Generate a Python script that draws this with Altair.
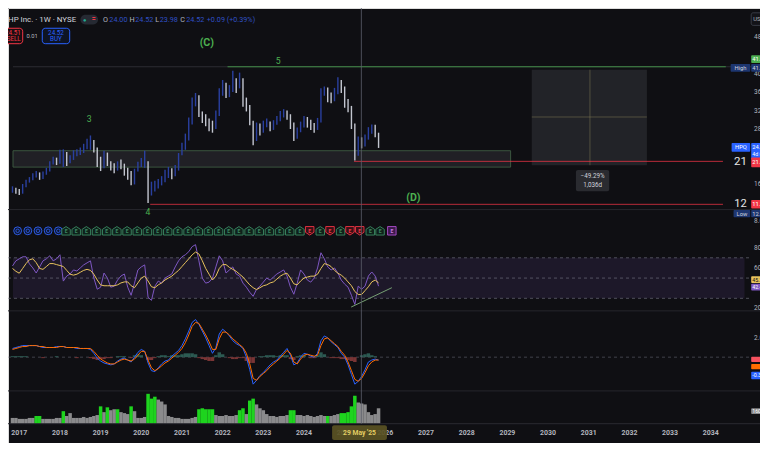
import altair as alt
import pandas as pd

# ---------------- canvas ----------------
W, H = 752, 435
SX, SY = W / 768, H / 451


def px(v):
    return round(v * SX, 2)


def py(v):
    return round(v * SY, 2)


BG = "#0f0f13"
FONT = "Roboto"

# ---------------- data ----------------
T0, T1 = 2016.846, 2035.088          # visible time window (fractional years)
year_ticks = list(range(2017, 2035))

n_months = 109                        # monthly bars Nov 2016 .. Nov 2025
t = [2016 + (10 + i) / 12 for i in range(n_months)]

close = [14.9, 14.5,
         14.1, 15.6, 16.6, 17.0, 17.7, 18.3, 17.5, 18.3, 18.9, 20.4, 21.4, 20.8,
         21.8, 22.9, 20.8, 21.6, 22.5, 22.9, 23.1, 23.7, 25.0, 26.0, 23.9, 21.8,
         19.7, 22.9, 20.8, 19.7, 19.3, 20.2, 20.0, 18.7, 17.7, 16.2, 18.7, 19.7,
         20.8, 21.4, 14.5, 14.5, 15.4, 16.0, 16.6, 17.5, 18.3, 17.9, 19.1, 21.8,
         23.9, 25.8, 29.1, 33.3, 35.0, 31.2, 30.2, 29.6, 28.7, 28.1, 30.8, 35.8,
         37.5, 35.8, 36.4, 39.2, 37.5, 38.5, 33.3, 32.7, 29.6, 25.4, 28.1, 27.5,
         28.7, 29.1, 28.1, 28.7, 30.0, 31.2, 31.6, 30.8, 29.1, 26.0, 27.5, 28.7,
         30.0, 29.1, 28.7, 28.1, 29.6, 35.8, 36.4, 35.0, 34.4, 35.8, 37.9, 36.4,
         33.7, 32.3, 28.7, 22.9, 25.4, 24.5, 26.0, 27.5, 28.1, 26.6, 24.5]
high = [15.6, 15.3,
        15.0, 16.1, 17.0, 17.6, 18.4, 18.9, 18.6, 18.8, 19.6, 21.0, 22.0, 21.8,
        23.5, 23.6, 23.0, 22.3, 23.4, 23.6, 24.0, 24.8, 25.9, 26.6, 25.6, 24.0,
        22.0, 23.3, 22.9, 21.0, 20.6, 21.0, 21.4, 20.5, 19.6, 18.9, 19.4, 20.9,
        21.7, 23.3, 21.0, 16.6, 16.8, 17.2, 17.8, 19.2, 19.8, 19.5, 20.2, 22.8,
        25.0, 27.0, 30.5, 34.8, 35.8, 35.3, 31.8, 31.2, 30.3, 29.8, 32.0, 36.8,
        38.6, 38.0, 37.5, 40.6, 39.0, 40.2, 39.0, 34.8, 33.2, 29.8, 29.4, 29.2,
        29.8, 30.3, 29.6, 29.9, 30.8, 31.9, 32.3, 32.0, 31.2, 29.4, 28.3, 29.6,
        30.8, 30.6, 30.0, 29.3, 30.4, 36.8, 37.2, 37.0, 35.9, 36.9, 39.2, 38.6,
        37.2, 34.5, 33.0, 29.2, 26.4, 26.2, 26.8, 28.4, 29.0, 28.9, 27.2]
low = [14.2, 14.0,
       13.7, 14.0, 15.4, 16.4, 16.9, 17.5, 17.0, 17.2, 18.1, 18.8, 20.3, 20.2,
       20.5, 19.8, 20.0, 20.6, 21.3, 22.1, 22.4, 22.8, 23.6, 23.5, 22.9, 19.8,
       18.9, 19.5, 20.0, 19.0, 18.4, 19.0, 19.3, 17.9, 17.0, 15.8, 16.0, 18.8,
       19.8, 19.6, 12.0, 13.6, 14.5, 15.1, 15.8, 16.5, 17.4, 17.1, 17.8, 19.0,
       22.3, 23.5, 25.5, 29.0, 32.9, 30.6, 29.3, 28.6, 27.5, 27.2, 28.0, 30.8,
       35.2, 34.7, 34.9, 36.0, 35.8, 36.8, 32.8, 31.8, 28.8, 24.5, 25.4, 26.6,
       27.2, 28.4, 27.5, 27.8, 28.9, 29.7, 30.5, 30.0, 28.0, 25.4, 25.9, 27.3,
       28.3, 28.3, 27.8, 27.2, 27.8, 29.4, 35.2, 33.8, 33.6, 34.0, 35.5, 35.8,
       32.6, 31.6, 28.0, 21.2, 22.2, 23.8, 24.2, 25.7, 27.0, 26.2, 23.9]

rsi = [62, 67,
       69, 71, 71, 64, 60, 55, 61, 67, 69, 72, 67, 69,
       73, 47, 52, 54, 58, 57, 60, 63, 65, 67, 50, 39,
       41, 55, 50, 41, 42, 48, 52, 54, 41, 33, 45, 58,
       61, 63, 31, 28, 42, 47, 45, 50, 52, 54, 61, 67,
       71, 73, 76, 81, 83, 67, 50, 45, 46, 50, 61, 72,
       67, 55, 58, 61, 54, 52, 45, 41, 36, 32, 39, 42,
       46, 50, 48, 51, 54, 56, 58, 52, 41, 34, 45, 58,
       54, 48, 46, 50, 60, 75, 69, 61, 58, 60, 55, 48,
       44, 41, 33, 24, 42, 39, 42, 52, 56, 52, 42]
rsi_ma = [59.5, 56.7,
          54.8, 59.5, 64.3, 68.1, 69.0, 65.2, 59.5, 58.6, 61.4, 64.3, 64.3, 63.3,
          62.4, 61.4, 57.6, 53.8, 52.9, 53.8, 55.7, 57.6, 58.6, 57.6, 53.8, 48.1,
          43.3, 42.4, 42.4, 42.4, 42.4, 43.3, 45.2, 46.2, 46.2, 42.4, 40.5, 45.2,
          50.0, 51.9, 47.1, 41.4, 40.5, 43.3, 45.2, 48.1, 50.0, 51.9, 54.8, 57.6,
          61.4, 65.2, 69.0, 72.9, 75.7, 73.8, 67.1, 59.5, 53.8, 48.1, 51.9, 59.5,
          63.3, 63.3, 60.5, 58.6, 56.7, 53.8, 51.0, 47.1, 43.3, 40.5, 38.6, 40.5,
          42.4, 43.3, 45.2, 46.2, 49.0, 51.9, 53.8, 54.8, 50.0, 44.3, 43.3, 47.1,
          50.0, 51.0, 51.9, 51.9, 53.8, 59.5, 64.3, 63.3, 61.4, 57.6, 54.8, 52.9,
          50.0, 46.2, 42.4, 36.7, 33.8, 33.8, 37.6, 41.4, 46.2, 48.1, 45.2]

macd = [0.9, 1.0,
        1.1, 1.2, 1.2, 1.2, 1.2, 1.2, 1.1, 1.0, 1.0, 1.0, 1.0, 1.1,
        1.1, 1.1, 1.0, 1.0, 1.0, 0.9, 0.9, 0.9, 0.9, 0.8, 0.4, -0.1,
        -0.4, -0.6, -0.7, -0.8, -0.7, -0.4, -0.2, -0.1, -0.3, -0.5, 0.0, 0.5,
        0.8, 0.6, -0.6, -1.4, -1.5, -1.1, -0.7, -0.4, -0.3, 0.1, 0.4, 0.7,
        1.2, 1.9, 2.7, 3.6, 3.9, 3.4, 2.7, 2.0, 1.2, 0.4, 1.0, 2.4,
        2.9, 2.6, 2.2, 1.7, 1.4, 1.2, 0.9, 0.0, -1.3, -2.8, -2.4, -1.9,
        -1.6, -1.2, -0.8, -0.5, -0.3, 0.1, 0.5, 0.9, 0.2, -0.8, -0.6, 0.0,
        0.4, 0.3, 0.1, 0.0, 0.4, 1.7, 2.2, 2.0, 1.6, 1.3, 1.0, 0.4,
        0.0, -0.8, -1.8, -2.8, -2.5, -2.0, -1.3, -0.5, -0.3, -0.2, -0.3]
signal = [0.8, 0.9,
          1.0, 1.1, 1.1, 1.2, 1.2, 1.2, 1.1, 1.1, 1.0, 1.0, 1.0, 1.0,
          1.1, 1.1, 1.0, 1.0, 1.0, 1.0, 0.9, 0.9, 0.9, 0.9, 0.6, 0.2,
          -0.2, -0.4, -0.6, -0.7, -0.7, -0.5, -0.3, -0.2, -0.3, -0.4, -0.2, 0.2,
          0.6, 0.6, -0.3, -1.1, -1.4, -1.2, -0.9, -0.6, -0.4, -0.1, 0.2, 0.5,
          0.9, 1.5, 2.3, 3.2, 3.6, 3.5, 2.9, 2.3, 1.6, 0.8, 0.8, 1.9,
          2.6, 2.6, 2.3, 1.9, 1.6, 1.3, 1.0, 0.4, -0.7, -2.2, -2.4, -2.0,
          -1.7, -1.4, -1.0, -0.7, -0.4, -0.1, 0.3, 0.7, 0.4, -0.5, -0.7, -0.2,
          0.2, 0.3, 0.2, 0.1, 0.2, 1.2, 1.9, 2.0, 1.7, 1.4, 1.1, 0.6,
          0.2, -0.5, -1.4, -2.3, -2.5, -2.2, -1.6, -0.9, -0.5, -0.3, -0.3]
hist = [0.1, 0.1,
        0.1, 0.1, 0.1, 0.0, 0.0, 0.0, 0.0, -0.1, 0.0, 0.0, 0.0, 0.1,
        0.0, 0.0, 0.0, 0.0, 0.0, -0.1, 0.0, 0.0, 0.0, -0.1, -0.2, -0.3,
        -0.2, -0.2, -0.1, -0.1, 0.0, 0.1, 0.1, 0.1, 0.0, -0.1, 0.2, 0.3,
        0.2, 0.0, -0.3, -0.3, -0.1, 0.1, 0.2, 0.2, 0.1, 0.2, 0.2, 0.2,
        0.3, 0.4, 0.4, 0.4, 0.3, -0.1, -0.2, -0.3, -0.4, -0.4, 0.2, 0.5,
        0.3, 0.0, -0.1, -0.2, -0.2, -0.1, -0.1, -0.4, -0.6, -0.6, 0.0, 0.1,
        0.1, 0.2, 0.2, 0.2, 0.1, 0.2, 0.2, 0.2, -0.2, -0.3, 0.1, 0.2,
        0.2, 0.0, -0.1, -0.1, 0.2, 0.5, 0.3, 0.0, -0.1, -0.1, -0.1, -0.2,
        -0.2, -0.3, -0.4, -0.5, 0.0, 0.2, 0.3, 0.4, 0.2, 0.1, 0.0]

volume = [60, 60,
          50, 50, 50, 60, 60, 80, 80, 50, 50, 50, 50, 60,
          60, 130, 80, 110, 60, 60, 60, 70, 60, 70, 80, 90,
          180, 120, 170, 140, 150, 150, 120, 110, 100, 180, 130, 60,
          60, 70, 310, 260, 280, 250, 230, 200, 80, 70, 60, 60,
          50, 50, 50, 60, 70, 150, 160, 150, 150, 150, 90, 80,
          80, 90, 80, 80, 90, 140, 160, 100, 240, 260, 200, 160,
          140, 100, 80, 80, 70, 80, 80, 90, 140, 140, 90, 90,
          80, 90, 80, 70, 80, 90, 80, 80, 80, 90, 100, 110,
          110, 120, 180, 290, 220, 210, 200, 120, 90, 100, 160]
vol_hot = [0, 0,
           0, 0, 0, 0, 0, 1, 1, 0, 0, 0, 0, 0,
           0, 1, 0, 0, 0, 0, 0, 0, 0, 0, 0, 0,
           1, 0, 1, 0, 0, 1, 0, 0, 0, 1, 0, 0,
           0, 0, 1, 1, 1, 0, 0, 0, 0, 0, 0, 0,
           0, 0, 0, 0, 0, 1, 1, 1, 1, 1, 0, 0,
           0, 0, 0, 0, 0, 1, 1, 0, 1, 1, 0, 0,
           0, 0, 0, 0, 0, 0, 0, 0, 1, 1, 0, 0,
           0, 0, 0, 0, 0, 0, 0, 1, 0, 0, 0, 1,
           1, 1, 1, 1, 0, 0, 0, 0, 0, 0, 0]

for arr in (close, high, low, rsi, rsi_ma, macd, signal, hist, volume, vol_hot):
    assert len(arr) == n_months, len(arr)

div_t = [2016.96, 2017.21, 2017.46, 2017.71, 2017.96]
earn_t = [2018.15, 2018.40, 2018.65, 2018.90, 2019.15, 2019.40, 2019.65, 2019.90,
          2020.15, 2020.40, 2020.65, 2020.90, 2021.15, 2021.40, 2021.65, 2021.90,
          2022.15, 2022.40, 2022.65, 2022.90, 2023.15, 2023.40, 2023.65, 2023.90,
          2024.14, 2024.40, 2024.64, 2024.90, 2025.13, 2025.37, 2025.63, 2025.87,
          2026.16]
earn_kind = ["beat"] * 24 + ["miss", "beat", "miss", "beat", "miss", "miss",
                             "beat", "beat", "next"]

price_ticks = [48, 40, 36, 32, 28, 16, 8]
rsi_ticks = [80, 60, 20]
macd_ticks = [2]

high_level = 41.47
sup_level, low_level = 21.0, 11.7
cursor_t = 2025.41
zone = dict(a=T0, b=2029.08, lo=19.75, hi=23.3)
measure = dict(a=2029.60, b=2032.43, top=40.83, bot=20.16, mid_t=2031.03, mid_p=30.6)
trend = dict(t=[2025.16, 2026.16], v=[21.4, 40.5])

# ---------------- scales ----------------
XS = alt.Scale(domain=[T0, T1], nice=False, zero=False)
PS = alt.Scale(domain=[7.847, 54.19], range=[py(222), 0], nice=False, zero=False)
RS = alt.Scale(domain=[18.57, 90.95], range=[py(313), py(237)], nice=False, zero=False)
MS = alt.Scale(domain=[-3.5, 4.8], range=[py(397), py(314)], nice=False, zero=False)
VS = alt.Scale(domain=[0, 340], range=[py(431), py(397)], nice=False, zero=False)


def Xf(f):
    return alt.X(f"{f}:Q", scale=XS, axis=None)


def Yf(f, s):
    return alt.Y(f"{f}:Q", scale=s, axis=None)


ONE = pd.DataFrame({"k": [0]})


def label(text, x, y, color="#d1d4dc", size=7.0, align="left", weight="normal"):
    return alt.Chart(ONE).mark_text(
        text=text, align=align, baseline="middle", color=color,
        fontSize=round(size * SY, 2), fontWeight=weight, font=FONT
    ).encode(x=alt.value(px(x)), y=alt.value(py(y)))


def box(x1, y1, x2, y2, fill, stroke="", fo=1.0, sw=1.0, r=0.0):
    kw = dict(fill=fill, fillOpacity=fo, cornerRadius=r)
    if stroke:
        kw.update(stroke=stroke, strokeWidth=sw)
    return alt.Chart(ONE).mark_rect(**kw).encode(
        x=alt.value(px(x1)), x2=alt.value(px(x2)),
        y=alt.value(py(y1)), y2=alt.value(py(y2)))


def hrule(y, x1, x2, color, sw=1.0, dash=(), op=1.0):
    kw = dict(color=color, strokeWidth=sw, opacity=op)
    if dash:
        kw["strokeDash"] = list(dash)
    return alt.Chart(ONE).mark_rule(**kw).encode(
        x=alt.value(px(x1)), x2=alt.value(px(x2)), y=alt.value(py(y)))


layers = []

# ---------------- tables ----------------
opens = [close[0]] + close[:-1]
price_df = pd.DataFrame({"t": t, "open": opens, "close": close, "high": high, "low": low})
price_df["dir"] = ["up" if c >= o else "down" for c, o in zip(close, opens)]
ind_df = pd.DataFrame({"t": t, "rsi": rsi, "ma": rsi_ma, "macd": macd, "signal": signal,
                       "hist": hist, "vol": volume})
ind_df["hs"] = ["pos" if h >= 0 else "neg" for h in hist]
ind_df["vh"] = ["hot" if v else "calm" for v in vol_hot]

# ---------------- main price panel ----------------
layers.append(alt.Chart(pd.DataFrame([zone])).mark_rect(
    fill="#7d7f86", fillOpacity=0.16, stroke="#3f5e43", strokeWidth=0.9).encode(
    x=Xf("a"), x2="b:Q", y=Yf("hi", PS), y2="lo:Q"))
layers.append(alt.Chart(pd.DataFrame([measure])).mark_rect(
    fill="#9598a1", fillOpacity=0.15).encode(
    x=Xf("a"), x2="b:Q", y=Yf("top", PS), y2="bot:Q"))
layers.append(alt.Chart(pd.DataFrame([measure])).mark_rule(
    color="#8a8256", strokeWidth=0.8, opacity=0.6).encode(
    x=Xf("mid_t"), y=Yf("top", PS), y2="bot:Q"))
layers.append(alt.Chart(pd.DataFrame([measure])).mark_rule(
    color="#8a8256", strokeWidth=0.8, opacity=0.6).encode(
    x=Xf("a"), x2="b:Q", y=Yf("mid_p", PS)))

# faint high / low guide lines across the pane
layers.append(alt.Chart(pd.DataFrame({"a": [T0], "b": [T1], "p": [high_level]})).mark_rule(
    color="#2c2c33", strokeWidth=1).encode(x=Xf("a"), x2="b:Q", y=Yf("p", PS)))
layers.append(hrule(209, 0, 768, "#26262d"))
layers.append(alt.Chart(pd.DataFrame({"a": [2022.12], "b": [2034.37], "p": [high_level]})).mark_rule(
    color="#4caf50", strokeWidth=1, opacity=0.75).encode(x=Xf("a"), x2="b:Q", y=Yf("p", PS)))
layers.append(alt.Chart(pd.DataFrame({"a": [2025.23, 2020.22], "b": [2034.30, 2034.30],
                                      "p": [sup_level, low_level]})).mark_rule(
    color="#f23645", strokeWidth=1, opacity=0.75).encode(x=Xf("a"), x2="b:Q", y=Yf("p", PS)))

# price bars
layers.append(alt.Chart(price_df).mark_rule(strokeWidth=1.4).encode(
    x=Xf("t"), y=Yf("low", PS), y2="high:Q",
    color=alt.Color("dir:N", scale=alt.Scale(domain=["up", "down"], range=["#2a40a0", "#c3c6d0"]),
                    legend=None)))

# wave labels
layers += [
    label("(C)", 203, 36, "#4caf50", 11, "center", "bold"),
    label("5", 276, 55, "#4caf50", 9, "center"),
    label("3", 83, 115, "#4caf50", 9, "center"),
    label("4", 143, 211, "#4caf50", 9, "center"),
    label("(D)", 414, 197, "#4caf50", 11, "center", "bold"),
]

# measure label
layers += [
    box(580, 168, 614, 190, "#2a2b30", r=2),
    label("\u221249.29%", 597, 174.5, "#d1d4dc", 6.5, "center"),
    label("1,036d", 597, 184, "#d1d4dc", 6.5, "center"),
]

# ---------------- header ----------------
layers += [
    label("HP Inc. \u00b7 1W \u00b7 NYSE", 0, 12, "#d1d4dc", 8.2),
    box(74, 7, 92, 17, "#262a33", r=5),
    label("\u25cf", 78.5, 12, "#22ab94", 6, "center"),
    label("=", 87.5, 11.5, "#f23645", 7, "center", "bold"),
    label("O", 97, 12, "#b2b5be", 7.5), label("24.00", 103.5, 12, "#2f4fc4", 7.5),
    label("H", 124, 12, "#b2b5be", 7.5), label("24.52", 130, 12, "#2f4fc4", 7.5),
    label("L", 150.5, 12, "#b2b5be", 7.5), label("23.98", 155, 12, "#2f4fc4", 7.5),
    label("C", 176, 12, "#b2b5be", 7.5), label("24.52", 182, 12, "#2f4fc4", 7.5),
    label("+0.09 (+0.39%)", 203, 12, "#2f4fc4", 7.5),
    box(-20, 21, 15, 37, "#1a0e12", "#f23645", sw=1, r=3),
    label("24.51", 13, 25.5, "#f23645", 6.5, "right"),
    label("SELL", 13, 32.5, "#f23645", 6.5, "right"),
    label("0.01", 19, 29, "#b2b5be", 6),
    box(35, 21, 63, 37, "#0e1424", "#2962ff", sw=1, r=3),
    label("24.52", 49, 25.5, "#2962ff", 6.5, "center"),
    label("BUY", 49, 32.5, "#2962ff", 6.5, "center"),
    box(759, 5, 772, 18, "#131318", "#434651", sw=0.8, r=2),
    label("USD", 761, 11.5, "#b2b5be", 6),
]

# ---------------- event icons ----------------
div_df = pd.DataFrame({"t": div_t})
layers.append(alt.Chart(div_df).mark_point(
    shape="circle", size=62, filled=True, fill="#0c1633", stroke="#2e5be0",
    strokeWidth=1, opacity=1).encode(x=Xf("t"), y=alt.value(py(231))))
layers.append(alt.Chart(div_df).mark_point(
    shape="circle", size=12, filled=False, color="#2e5be0", strokeWidth=0.9,
    opacity=1).encode(x=Xf("t"), y=alt.value(py(231))))
HOUSE = "M-1,1 L-1,-0.35 L0,-1 L1,-0.35 L1,1 Z"
SHIELD = "M-1,-1 L1,-1 L1,0.35 L0,1 L-1,0.35 Z"
earn_df = pd.DataFrame({"t": earn_t, "kind": earn_kind})
kinds = ["beat", "miss", "next"]
layers.append(alt.Chart(earn_df).mark_point(size=72, strokeWidth=0.9, opacity=1, filled=True).encode(
    x=Xf("t"), y=alt.value(py(231)),
    shape=alt.Shape("kind:N", scale=alt.Scale(domain=kinds, range=[HOUSE, SHIELD, "square"]), legend=None),
    fill=alt.Fill("kind:N", scale=alt.Scale(domain=kinds, range=["#0f211b", "#3a1016", "#3c1a4c"]), legend=None),
    stroke=alt.Stroke("kind:N", scale=alt.Scale(domain=kinds, range=["#3b8a63", "#f23645", "#b04fd0"]), legend=None)))
layers.append(alt.Chart(earn_df).mark_text(text="E", fontSize=5, font=FONT, fontWeight="bold").encode(
    x=Xf("t"), y=alt.value(py(231.5)),
    color=alt.Color("kind:N", scale=alt.Scale(domain=kinds, range=["#3b8a63", "#f23645", "#c77ae0"]), legend=None)))

# ---------------- RSI panel ----------------
layers.append(alt.Chart(pd.DataFrame({"a": [T0], "b": [2034.83], "hi": [70], "lo": [30]})).mark_rect(
    fill="#7e57c2", fillOpacity=0.13).encode(x=Xf("a"), x2="b:Q", y=Yf("hi", RS), y2="lo:Q"))
layers.append(alt.Chart(pd.DataFrame({"lv": [70, 50, 30]})).mark_rule(
    color="#787b86", strokeDash=[3, 3], strokeWidth=0.8, opacity=0.75).encode(
    y=Yf("lv", RS), x=alt.value(0), x2=alt.value(px(757))))
layers.append(alt.Chart(ind_df).mark_line(color="#7e57c2", strokeWidth=1).encode(
    x=Xf("t"), y=Yf("rsi", RS)))
layers.append(alt.Chart(ind_df).mark_line(color="#e8c35c", strokeWidth=1).encode(
    x=Xf("t"), y=Yf("ma", RS)))
layers.append(alt.Chart(pd.DataFrame(trend)).mark_line(color="#7fae7a", strokeWidth=0.9).encode(
    x=Xf("t"), y=Yf("v", RS)))

# ---------------- MACD panel ----------------
layers.append(alt.Chart(pd.DataFrame({"z": [0]})).mark_rule(
    color="#787b86", strokeDash=[3, 3], strokeWidth=0.8, opacity=0.6).encode(
    y=Yf("z", MS), x=alt.value(0), x2=alt.value(px(757))))
layers.append(alt.Chart(ind_df).mark_bar(size=3.5).encode(
    x=Xf("t"), y=Yf("hist", MS), y2=alt.datum(0),
    color=alt.Color("hs:N", scale=alt.Scale(domain=["pos", "neg"], range=["#2c5a52", "#7a3535"]),
                    legend=None)))
layers.append(alt.Chart(ind_df).mark_line(color="#2962ff", strokeWidth=1).encode(
    x=Xf("t"), y=Yf("macd", MS)))
layers.append(alt.Chart(ind_df).mark_line(color="#ff6d00", strokeWidth=1).encode(
    x=Xf("t"), y=Yf("signal", MS)))

# ---------------- volume panel ----------------
layers.append(alt.Chart(ind_df).mark_bar(size=3.5).encode(
    x=Xf("t"), y=Yf("vol", VS), y2=alt.datum(0),
    color=alt.Color("vh:N", scale=alt.Scale(domain=["hot", "calm"], range=["#1ed41e", "#8a8a8c"]),
                    legend=None)))

# ---------------- separators, cursor ----------------
layers += [
    hrule(314, 0, 768, "#26262d"),
    hrule(397, 0, 768, "#26262d"),
    hrule(431, 0, 768, "#2a2a31"),
]
layers.append(alt.Chart(pd.DataFrame({"t": [cursor_t]})).mark_rule(
    color="#5d606b", strokeWidth=0.8).encode(x=Xf("t"), y=alt.value(0), y2=alt.value(py(431))))

# ---------------- right price scale ----------------
layers.append(alt.Chart(pd.DataFrame({"v": price_ticks})).mark_text(
    align="left", baseline="middle", color="#b2b5be", fontSize=6.5, font=FONT).encode(
    x=alt.value(px(762)), y=Yf("v", PS), text=alt.Text("v:Q", format=".2f")))
layers.append(alt.Chart(pd.DataFrame({"v": rsi_ticks})).mark_text(
    align="left", baseline="middle", color="#b2b5be", fontSize=6.5, font=FONT).encode(
    x=alt.value(px(762)), y=Yf("v", RS), text=alt.Text("v:Q", format=".2f")))
layers.append(alt.Chart(pd.DataFrame({"v": macd_ticks})).mark_text(
    align="left", baseline="middle", color="#b2b5be", fontSize=6.5, font=FONT).encode(
    x=alt.value(px(762)), y=Yf("v", MS), text=alt.Text("v:Q", format=".2f")))

layers += [
    box(759, 49, 772, 57, "#4caf50", r=1), label("41.47", 760, 53, "#ffffff", 6),
    box(738, 58, 758, 66, "#1d3670", r=1), label("High", 748, 62, "#d1d4dc", 6, "center"),
    box(759, 58, 772, 66, "#1d3670", r=1), label("41.47", 760, 62, "#d1d4dc", 6),
    box(739, 140, 758, 149, "#2962ff", r=1), label("HPQ", 748.5, 144.5, "#ffffff", 6, "center"),
    box(759, 140, 772, 157, "#2962ff", r=1), label("24.52", 760, 144, "#ffffff", 6),
    label("4d 02h", 760, 151.5, "#ffffff", 5.5),
    label("21", 748, 160, "#e6e6e6", 12, "center"),
    box(759, 155, 772, 165, "#f23645", r=1), label("21.00", 760, 160, "#ffffff", 6),
    label("12", 748, 203.5, "#e6e6e6", 11.5, "center"),
    box(759, 199, 772, 208, "#f23645", r=1), label("11.70", 760, 203.5, "#ffffff", 6),
    box(741, 209.5, 758, 217, "#1d3670", r=1), label("Low", 749.5, 213.3, "#d1d4dc", 6, "center"),
    box(759, 209.5, 772, 217, "#1d3670", r=1), label("12.00", 760, 213.3, "#d1d4dc", 6),
    # RSI / MA tags
    box(759, 278, 772, 285, "#e8c35c", r=1), label("45.20", 760, 281.5, "#131313", 5.5),
    box(759, 286, 772, 293, "#7e57c2", r=1), label("42.40", 760, 289.5, "#ffffff", 5.5),
    # MACD tags
    box(759, 361.5, 772, 367, "#f7525f", r=1),
    box(759, 369, 772, 374.5, "#ff6d00", r=1),
    box(759, 377, 772, 385, "#2962ff", r=1), label("-0.30", 760, 381, "#ffffff", 5.5),
    # volume tag
    box(759, 415, 772, 421, "#8a8a8c", r=1), label("160M", 760, 418, "#ffffff", 5.5),
]

# ---------------- time axis ----------------
layers.append(alt.Chart(pd.DataFrame({"y": year_ticks})).mark_text(
    baseline="middle", align="center", color="#b2b5be", fontSize=round(7.2 * SY, 2),
    fontWeight="bold", font=FONT).encode(
    x=Xf("y"), y=alt.value(py(441)), text="y:N"))
layers += [
    box(331, 432.5, 387, 448, "#5a5224", fo=0.92, r=2),
    label("29 May '25", 359, 440.5, "#e2cc63", 7, "center", "bold"),
]

chart = alt.layer(*layers).resolve_scale(
    y="independent", color="independent", fill="independent",
    stroke="independent", shape="independent"
).properties(
    width=W, height=H, autosize=alt.AutoSizeParams(type="none"), padding=0, background=BG
).configure_view(strokeWidth=0).configure(font=FONT)

chart.save("out.html", embed_options={"renderer": "svg", "actions": False})
